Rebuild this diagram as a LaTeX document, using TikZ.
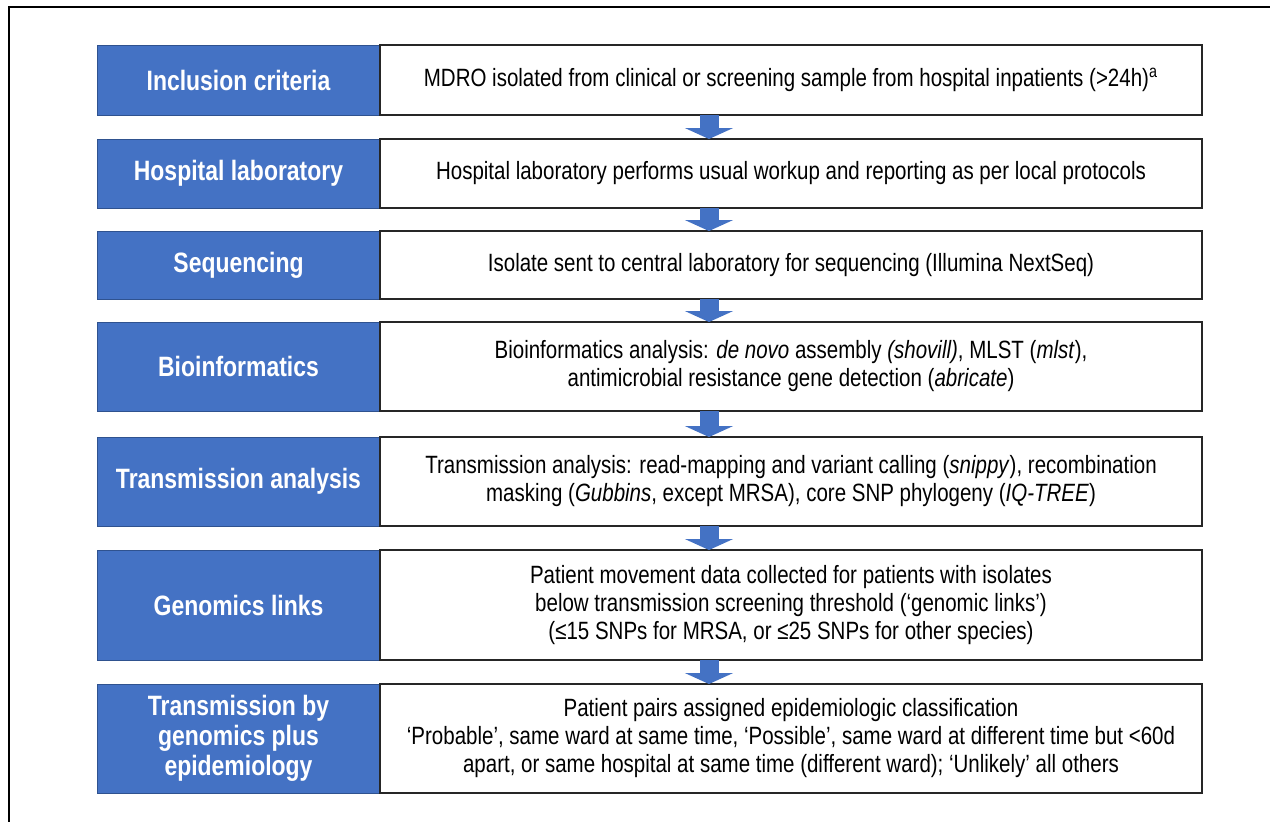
\documentclass[tikz,border=0pt]{standalone}
\usepackage{fontspec}
\setmainfont{Liberation Sans}[FakeStretch=0.82]
\usetikzlibrary{arrows.meta}

\definecolor{stageblue}{HTML}{4472C4}
\definecolor{stageedge}{HTML}{2F528F}

\tikzset{
  stagebox/.style={rectangle, fill=stageblue, draw=stageedge, line width=0.4pt,
    text=white, font=\fontsize{14}{15}\selectfont\bfseries, align=center,
    minimum width=141.5pt, inner sep=0pt, outer sep=0pt},
  infobox/.style={rectangle, fill=white, draw=black!85, line width=0.8pt,
    font=\fontsize{12.5}{14}\selectfont, align=center,
    minimum width=411pt, inner sep=0pt, outer sep=0pt},
  flowarrow/.style={draw=stageblue, line width=9.5pt,
    -{Triangle[width=24pt, length=5.5pt]}},
}

\begin{document}
\begin{tikzpicture}[x=0.5pt, y=-0.5pt]
\useasboundingbox (0,0) rectangle (1270,821);
\draw[line width=1pt] (9,7) rectangle (1300,840);
\coordinate (ax) at (709,0);
% left column, coloured stage names
\node[stagebox, minimum height=35pt] (stage1) at (238.5,80){Inclusion criteria};
\node[stagebox, minimum height=34.5pt] (stage2) at (238.5,173.5){Hospital laboratory};
\node[stagebox, minimum height=34pt] (stage3) at (238.5,265){Sequencing};
\node[stagebox, minimum height=44.5pt] (stage4) at (238.5,366.5){Bioinformatics};
\node[stagebox, minimum height=44.5pt] (stage5) at (238.5,481.5){Transmission analysis};
\node[stagebox, minimum height=55pt] (stage6) at (238.5,605){Genomics links};
\node[stagebox, minimum height=54.5pt] (stage7) at (238.5,738.5){Transmission by\\genomics plus\\epidemiology};
% right column, what happens at each stage
\node[infobox, minimum height=35pt] (info1) at (791,80){MDRO isolated from clinical or screening sample from hospital inpatients (>24h)\textsuperscript{a}};
\node[infobox, minimum height=34.5pt] (info2) at (791,173.5){Hospital laboratory performs usual workup and reporting as per local protocols};
\node[infobox, minimum height=34pt] (info3) at (791,265){Isolate sent to central laboratory for sequencing (Illumina NextSeq)};
\node[infobox, minimum height=44.5pt] (info4) at (791,366.5){Bioinformatics analysis: \textit{de novo} assembly \textit{(shovill)}, MLST (\textit{mlst}),\\antimicrobial resistance gene detection (\textit{abricate})};
\node[infobox, minimum height=44.5pt] (info5) at (791,481.5){Transmission analysis: read-mapping and variant calling (\textit{snippy}), recombination\\masking (\textit{Gubbins}, except MRSA), core SNP phylogeny (\textit{IQ-TREE})};
\node[infobox, minimum height=55pt] (info6) at (791,605){Patient movement data collected for patients with isolates\\below transmission screening threshold (‘genomic links’)\\(≤15 SNPs for MRSA, or ≤25 SNPs for other species)};
\node[infobox, minimum height=54.5pt] (info7) at (791,738.5){Patient pairs assigned epidemiologic classification\\‘Probable’, same ward at same time, ‘Possible’, same ward at different time but <60d\\apart, or same hospital at same time (different ward); ‘Unlikely’ all others};
% block arrows between the stages
\draw[flowarrow] (info1.south -| ax) -- (info2.north -| ax);
\draw[flowarrow] (info2.south -| ax) -- (info3.north -| ax);
\draw[flowarrow] (info3.south -| ax) -- (info4.north -| ax);
\draw[flowarrow] (info4.south -| ax) -- (info5.north -| ax);
\draw[flowarrow] (info5.south -| ax) -- (info6.north -| ax);
\draw[flowarrow] (info6.south -| ax) -- (info7.north -| ax);
\end{tikzpicture}
\end{document}
